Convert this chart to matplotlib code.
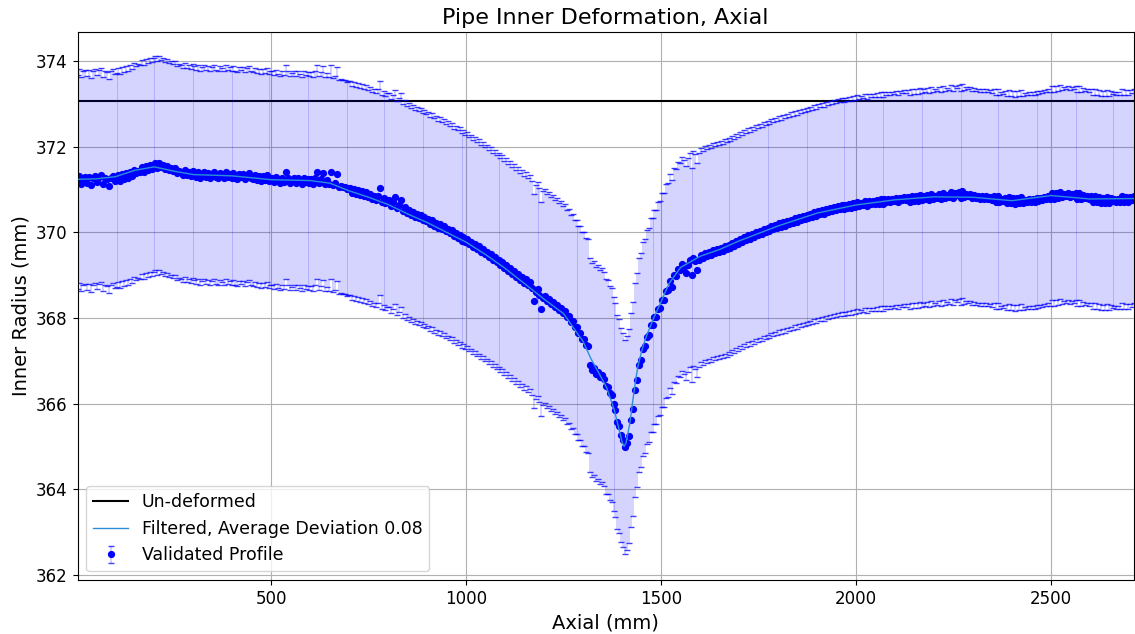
import numpy as np
import matplotlib
matplotlib.use("Agg")
import matplotlib.pyplot as plt

# Axial sample positions (mm), one reading every 5 mm
axial = np.arange(3, 2715, 5)

# Validated inner radius readings (mm), 10 readings per 50 mm
radius = [
    371.18, 371.32, 371.14, 371.28, 371.30, 371.16, 371.29, 371.10, 371.26, 371.31,
    371.17, 371.29, 371.33, 371.14, 371.27, 371.24, 371.08, 371.26, 371.31, 371.21,
    371.22, 371.33, 371.19, 371.36, 371.25, 371.39, 371.28, 371.42, 371.31, 371.45,
    371.38, 371.44, 371.41, 371.52, 371.42, 371.55, 371.45, 371.58, 371.48, 371.57,
    371.62, 371.50, 371.63, 371.53, 371.57, 371.49, 371.55, 371.46, 371.51, 371.43,
    371.50, 371.39, 371.44, 371.42, 371.35, 371.45, 371.33, 371.42, 371.31, 371.43,
    371.39, 371.30, 371.41, 371.27, 371.37, 371.40, 371.29, 371.38, 371.26, 371.36,
    371.41, 371.30, 371.27, 371.39, 371.35, 371.28, 371.40, 371.29, 371.37, 371.27,
    371.39, 371.28, 371.25, 371.37, 371.30, 371.36, 371.24, 371.33, 371.38, 371.26,
    371.24, 371.35, 371.23, 371.32, 371.19, 371.31, 371.22, 371.33, 371.21, 371.28,
    371.27, 371.17, 371.30, 371.20, 371.15, 371.28, 371.18, 371.40, 371.26, 371.16,
    371.23, 371.28, 371.15, 371.26, 371.19, 371.14, 371.27, 371.17, 371.25, 371.16,
    371.24, 371.13, 371.26, 371.41, 371.16, 371.25, 371.39, 371.14, 371.23, 371.12,
    371.40, 371.11, 371.15, 371.36, 371.07, 371.09, 371.05, 371.06, 371.02, 371.04,
    371.04, 370.93, 371.02, 370.90, 370.98, 370.88, 370.96, 370.84, 370.94, 370.83,
    370.90, 370.79, 370.86, 370.76, 370.84, 371.03, 370.71, 370.80, 370.68, 370.75,
    370.75, 370.62, 370.70, 370.82, 370.58, 370.64, 370.75, 370.50, 370.60, 370.46,
    370.52, 370.40, 370.48, 370.37, 370.44, 370.33, 370.40, 370.28, 370.36, 370.26,
    370.32, 370.20, 370.28, 370.16, 370.22, 370.11, 370.19, 370.07, 370.14, 370.03,
    370.09, 369.98, 370.05, 369.92, 369.99, 369.88, 369.95, 369.81, 369.89, 369.78,
    369.84, 369.72, 369.78, 369.66, 369.73, 369.61, 369.67, 369.55, 369.61, 369.49,
    369.55, 369.43, 369.50, 369.36, 369.43, 369.30, 369.36, 369.23, 369.30, 369.16,
    369.23, 369.10, 369.17, 369.03, 369.09, 368.96, 369.02, 368.89, 368.95, 368.82,
    368.90, 368.76, 368.83, 368.69, 368.40, 368.61, 368.67, 368.53, 368.22, 368.46,
    368.52, 368.40, 368.45, 368.32, 368.38, 368.25, 368.31, 368.18, 368.23, 368.11,
    368.16, 368.02, 368.05, 367.90, 367.93, 367.78, 367.80, 367.64, 367.66, 367.51,
    367.52, 367.36, 367.35, 366.90, 366.79, 366.84, 366.70, 366.74, 366.62, 366.66,
    366.58, 366.40, 366.38, 366.24, 366.20, 365.98, 365.85, 365.58, 365.48, 365.27,
    365.15, 364.99, 365.08, 365.25, 365.62, 365.88, 366.32, 366.56, 366.90, 367.02,
    367.27, 367.34, 367.55, 367.60, 367.83, 367.84, 368.03, 368.03, 368.20, 368.24,
    368.43, 368.41, 368.63, 368.66, 368.87, 368.72, 369.00, 368.98, 369.15, 369.12,
    369.25, 369.20, 369.05, 369.24, 369.35, 369.00, 369.39, 369.32, 369.12, 369.36,
    369.47, 369.41, 369.52, 369.44, 369.55, 369.48, 369.58, 369.51, 369.61, 369.54,
    369.64, 369.56, 369.67, 369.60, 369.71, 369.64, 369.75, 369.68, 369.79, 369.72,
    369.85, 369.78, 369.89, 369.82, 369.93, 369.85, 369.96, 369.89, 370.00, 369.93,
    370.04, 369.97, 370.07, 370.00, 370.11, 370.03, 370.14, 370.07, 370.17, 370.10,
    370.21, 370.13, 370.24, 370.16, 370.27, 370.19, 370.30, 370.22, 370.33, 370.25,
    370.36, 370.28, 370.39, 370.31, 370.41, 370.34, 370.44, 370.36, 370.47, 370.39,
    370.50, 370.42, 370.52, 370.44, 370.55, 370.47, 370.57, 370.49, 370.59, 370.52,
    370.62, 370.54, 370.64, 370.55, 370.65, 370.57, 370.67, 370.58, 370.68, 370.60,
    370.70, 370.62, 370.69, 370.63, 370.73, 370.62, 370.74, 370.66, 370.73, 370.67,
    370.75, 370.66, 370.79, 370.67, 370.78, 370.71, 370.77, 370.72, 370.79, 370.73,
    370.81, 370.72, 370.80, 370.75, 370.82, 370.76, 370.83, 370.71, 370.86, 370.74,
    370.85, 370.73, 370.88, 370.76, 370.84, 370.79, 370.87, 370.75, 370.90, 370.78,
    370.86, 370.81, 370.89, 370.77, 370.93, 370.80, 370.88, 370.82, 370.95, 370.81,
    370.93, 370.87, 370.94, 370.81, 370.96, 370.82, 370.90, 370.84, 370.89, 370.81,
    370.88, 370.80, 370.86, 370.79, 370.85, 370.77, 370.84, 370.78, 370.83, 370.76,
    370.84, 370.71, 370.85, 370.72, 370.79, 370.73, 370.80, 370.68, 370.82, 370.69,
    370.81, 370.67, 370.80, 370.68, 370.82, 370.69, 370.76, 370.71, 370.78, 370.70,
    370.79, 370.72, 370.80, 370.74, 370.81, 370.75, 370.83, 370.77, 370.84, 370.79,
    370.91, 370.78, 370.93, 370.80, 370.95, 370.82, 370.89, 370.84, 370.91, 370.83,
    370.90, 370.84, 370.91, 370.78, 370.92, 370.79, 370.87, 370.80, 370.86, 370.78,
    370.85, 370.72, 370.84, 370.70, 370.83, 370.69, 370.81, 370.68, 370.82, 370.69,
    370.80, 370.73, 370.79, 370.72, 370.78, 370.70, 370.84, 370.71, 370.83, 370.72,
    370.83, 370.76, 370.84,
]
radius_err = 2.5

# Filtered profile
filt_axial = [3, 50, 100, 150, 200, 250, 300, 400, 500, 600, 650, 700, 750, 800,
              850, 900, 950, 1000, 1050, 1100, 1150, 1200, 1250, 1300, 1320, 1340,
              1360, 1380, 1390, 1400, 1405, 1410, 1420, 1430, 1440, 1450, 1460, 1480,
              1500, 1520, 1550, 1600, 1650, 1700, 1800, 1900, 2000, 2100, 2200, 2300,
              2400, 2500, 2600, 2713]
filt_radius = [371.24, 371.25, 371.30, 371.45, 371.53, 371.43, 371.35, 371.32,
               371.23, 371.21, 371.15, 370.97, 370.82, 370.65, 370.43, 370.23,
               370.00, 369.77, 369.48, 369.16, 368.80, 368.44, 368.10, 367.45,
               367.05, 366.72, 366.38, 365.85, 365.48, 365.10, 365.00, 365.08,
               365.55, 366.25, 366.85, 367.22, 367.52, 367.98, 368.38, 368.80,
               369.18, 369.44, 369.60, 369.80, 370.15, 370.45, 370.64, 370.76,
               370.83, 370.82, 370.74, 370.86, 370.78, 370.79]

undeformed = 373.07

fig = plt.figure(figsize=(11.35, 6.34), dpi=100)
ax = fig.add_axes([0.0683, 0.0852, 0.9308, 0.8643])

ax.axhline(undeformed, color='black', lw=1.5, label='Un-deformed')
ax.plot(filt_axial, filt_radius, color='#2a8fd6', lw=1.0, zorder=4,
        label='Filtered, Average Deviation 0.08')
eb = ax.errorbar(axial, radius, yerr=radius_err, fmt='o', ms=4.2, color='blue',
                 ecolor='blue', elinewidth=1.2, capsize=2.5, capthick=1.0,
                 label='Validated Profile')
data_line, caplines, barcols = eb.lines
for bc in barcols:
    bc.set_alpha(0.2)
for cl in caplines:
    cl.set_alpha(0.75)

ax.set_xlim(axial[0], axial[-1])
ax.set_ylim(361.88, 374.68)
ax.grid(True)
ax.tick_params(labelsize=12)
ax.set_xlabel('Axial (mm)', fontsize=14)
ax.set_ylabel('Inner Radius (mm)', fontsize=14)
ax.set_title('Pipe Inner Deformation, Axial', fontsize=16)
ax.legend(loc='lower left', fontsize=12.5)

fig.savefig('out.png', dpi=100)
